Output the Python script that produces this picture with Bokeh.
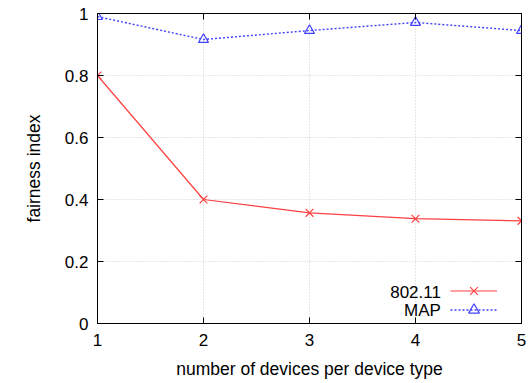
from bokeh.plotting import figure
from bokeh.models import (LinearAxis, Legend, LegendItem, Label, FixedTicker, Range1d)
from bokeh.embed import file_html
from bokeh.resources import INLINE

# ---- data ----
devices = [1, 2, 3, 4, 5]
wifi_80211 = [0.80, 0.40, 0.357, 0.338, 0.331]
map_vals = [0.99, 0.916, 0.945, 0.971, 0.945]
series_names = ["802.11", "MAP"]
x_ticks = [1, 2, 3, 4, 5]
y_ticks = [0, 0.2, 0.4, 0.6, 0.8, 1.0]
y_tick_labels = ["0", "0.2", "0.4", "0.6", "0.8", "1"]

FONT = "Liberation Sans"
FS = "17px"
FS_LABEL = "17.5px"
RED = "#ff4040"
BLUE = "#4040ff"

p = figure(width=529, height=383, output_backend="svg", toolbar_location=None,
           x_range=Range1d(1, 5), y_range=Range1d(0, 1),
           min_border_left=97, min_border_right=8, min_border_top=13,
           min_border_bottom=60)

p.outline_line_color = "black"
p.outline_line_width = 1
p.background_fill_color = "white"
p.border_fill_color = "white"

# grids
for g in (p.xgrid, p.ygrid):
    g.grid_line_color = "#cfcfcf"
    g.grid_line_dash = "1 2"
    g.grid_line_width = 1
p.xgrid.ticker = FixedTicker(ticks=x_ticks)
p.ygrid.ticker = FixedTicker(ticks=y_ticks)

# axes
xa = p.xaxis[0]
ya = p.yaxis[0]
xa.ticker = FixedTicker(ticks=x_ticks)
ya.ticker = FixedTicker(ticks=y_ticks)
ya.major_label_overrides = {t: l for t, l in zip(y_ticks, y_tick_labels)}
xa.axis_label = "number of devices per device type"
ya.axis_label = "fairness index"
for ax in (xa, ya):
    ax.axis_line_color = "black"
    ax.major_tick_in = 6
    ax.major_tick_out = 0
    ax.minor_tick_line_color = None
    ax.major_tick_line_color = "black"
    ax.major_label_text_font = FONT
    ax.major_label_text_font_size = FS
    ax.major_label_text_color = "black"
    ax.axis_label_text_font = FONT
    ax.axis_label_text_font_size = FS_LABEL
    ax.axis_label_text_font_style = "normal"
    ax.axis_label_text_color = "black"
xa.major_label_standoff = 10
ya.major_label_standoff = 9
xa.axis_label_standoff = 10
ya.axis_label_standoff = 18

# mirrored ticks on top/right (no labels)
top = LinearAxis(ticker=FixedTicker(ticks=x_ticks),
                 major_label_overrides={t: "" for t in x_ticks},
                 major_label_standoff=0, major_tick_in=6, major_tick_out=0,
                 minor_tick_line_color=None)
right = LinearAxis(ticker=FixedTicker(ticks=y_ticks),
                   major_label_overrides={t: "" for t in y_ticks},
                   major_label_standoff=0, major_tick_in=6, major_tick_out=0,
                   minor_tick_line_color=None)
p.add_layout(top, "above")
p.add_layout(right, "right")

# series
l1 = p.line(devices, wifi_80211, line_color=RED, line_width=1.2)
m1 = p.scatter(devices, wifi_80211, marker="x", size=11, line_color=RED, line_width=1.2)
l2 = p.line(devices, map_vals, line_color=BLUE, line_width=1.4, line_dash="2 2")
m2 = p.scatter(devices, map_vals, marker="triangle", size=10, line_color=BLUE,
               fill_color=None, line_width=1.2)

# one legend per row (label drawn separately to the left, as in the original)
for rends, loc in (([l1, m1], (353, 19)), ([l2, m2], (353, 0))):
    lg = Legend(items=[LegendItem(label="", renderers=rends)],
                location=loc, orientation="vertical",
                background_fill_alpha=0, border_line_alpha=0,
                glyph_width=47, glyph_height=27, spacing=0, padding=0, margin=0,
                label_width=0, label_standoff=0, label_height=27)
    p.add_layout(lg, "center")

# legend texts (right aligned, left of samples)
for name, yy in zip(series_names, [0.103, 0.042]):
    p.add_layout(Label(x=4.24, y=yy, text=name, text_align="right",
                       text_baseline="middle", text_font=FONT, text_font_size=FS,
                       text_color="black"))

open("out.html", "w").write(file_html(p, INLINE))
